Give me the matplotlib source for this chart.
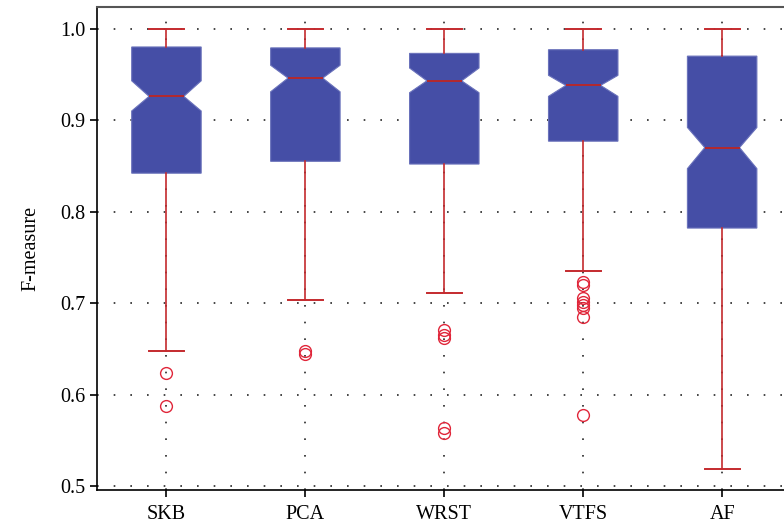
import matplotlib
matplotlib.use('Agg')
import matplotlib.pyplot as plt

plt.rcParams['font.family'] = ['Liberation Serif', 'DejaVu Serif']

methods = ['SKB', 'PCA', 'WRST', 'VTFS', 'AF']
whislo = [0.648, 0.703, 0.711, 0.735, 0.519]
q1 = [0.842, 0.855, 0.852, 0.877, 0.782]
med = [0.926, 0.946, 0.943, 0.938, 0.870]
q3 = [0.980, 0.979, 0.973, 0.977, 0.970]
whishi = [1.0, 1.0, 1.0, 1.0, 1.0]
ci_lo = [0.910, 0.931, 0.930, 0.926, 0.847]
ci_hi = [0.943, 0.960, 0.957, 0.949, 0.892]
fliers = [
    [0.623, 0.587],
    [0.648, 0.644],
    [0.670, 0.665, 0.662, 0.563, 0.558],
    [0.723, 0.720, 0.706, 0.701, 0.698, 0.695, 0.685, 0.578],
    [],
]

stats = []
for i, name in enumerate(methods):
    stats.append(dict(label=name, whislo=whislo[i], q1=q1[i], med=med[i],
                      q3=q3[i], whishi=whishi[i], cilo=ci_lo[i], cihi=ci_hi[i],
                      fliers=fliers[i]))

fig = plt.figure(figsize=(7.84, 5.27), dpi=100)
ax = fig.add_axes([0.1237, 0.0702, 0.886, 0.9165])

red = '#c42a2e'
ax.bxp(stats, positions=range(1, 6), widths=0.5, shownotches=True,
       patch_artist=True,
       boxprops=dict(facecolor='#454ea6', edgecolor='#6a72bb', linewidth=0.8),
       medianprops=dict(color='#b3282c', linewidth=1.4),
       whiskerprops=dict(color=red, linewidth=1.2, linestyle='-'),
       capprops=dict(color=red, linewidth=1.4),
       flierprops=dict(marker='o', markerfacecolor='none', markeredgecolor='#e0263a',
                       markersize=8.5, markeredgewidth=1.0))

ax.set_xlim(0.5, 5.5)
ax.set_ylim(0.4956, 1.0237)
ax.set_yticks([0.5, 0.6, 0.7, 0.8, 0.9, 1.0])
ax.set_yticklabels(['0.5', '0.6', '0.7', '0.8', '0.9', '1.0'])
ax.set_xticks(range(1, 6))
ax.set_xticklabels(methods)
ax.tick_params(axis='both', labelsize=14.5, direction='out', length=5, width=1.2,
               colors='black')
ax.tick_params(axis='x', pad=6)
ax.set_ylabel('F-measure', fontsize=14.5, labelpad=14)

ax.grid(True, color='black', linestyle=(0, (1, 9)), linewidth=1.2, alpha=0.85)
ax.set_axisbelow(True)

ax.spines['top'].set_color('#555555')
ax.spines['top'].set_linewidth(1.5)
ax.spines['left'].set_linewidth(1.2)
ax.spines['bottom'].set_linewidth(1.2)
ax.spines['right'].set_visible(False)

fig.savefig('out.png', dpi=100)
